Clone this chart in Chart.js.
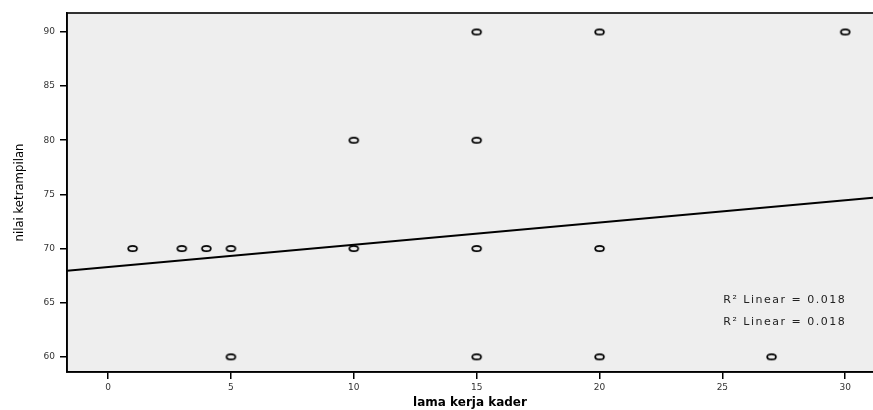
<!DOCTYPE html>
<html>
<head>
<meta charset="utf-8">
<script src="https://cdn.jsdelivr.net/npm/chart.js@4.4.1/dist/chart.umd.min.js"></script>
<style>
html,body{margin:0;padding:0;background:#fff;overflow:hidden;}
#wrap{width:873px;height:410px;position:relative;overflow:hidden;}
</style>
</head>
<body>
<div id="wrap"><canvas id="c" width="879" height="410"></canvas></div>
<script>
// observed data points (lama kerja kader, nilai ketrampilan)
const pointX = [15, 20, 30, 10, 15, 1, 3, 4, 5, 10, 15, 20, 5, 15, 20, 27];
const pointY = [90, 90, 90, 80, 80, 70, 70, 70, 70, 70, 70, 70, 60, 60, 60, 60];
// fitted linear regression line, endpoints at axis limits
const fitX = [-1.67, 31.13];
const fitY = [67.94, 74.68];
// axis ticks
const xTicks = [0, 5, 10, 15, 20, 25, 30];
const yTicks = [60, 65, 70, 75, 80, 85, 90];
const fitLabels = ["R\u00B2 Linear = 0.018", "R\u00B2 Linear = 0.018"];
const xTitle = "lama kerja kader";
const yTitle = "nilai ketrampilan";

// open oval marker
const mk = document.createElement('canvas');
mk.width = 13; mk.height = 9;
(function(){
  const g = mk.getContext('2d');
  g.fillStyle = '#eeeeee';
  g.strokeStyle = '#000';
  g.lineWidth = 1.7;
  g.beginPath();
  g.ellipse(6.5, 4.5, 4.4, 2.7, 0, 0, Math.PI*2);
  g.fill();
  g.stroke();
})();

const framePlugin = {
  id: 'frame',
  beforeDraw(chart){
    const {ctx, chartArea:a} = chart;
    ctx.save();
    ctx.fillStyle = '#eeeeee';
    ctx.fillRect(a.left, a.top, a.right - a.left, a.bottom - a.top);
    ctx.restore();
  },
  afterDraw(chart){
    const {ctx, chartArea:a} = chart;
    ctx.save();
    ctx.strokeStyle = '#000';
    ctx.lineWidth = 1.6;
    ctx.strokeRect(a.left, a.top, a.right - a.left + 2, a.bottom - a.top);
    ctx.font = '11px "DejaVu Sans", sans-serif';
    if ('letterSpacing' in ctx) ctx.letterSpacing = '1.5px';
    ctx.fillStyle = '#222';
    ctx.textAlign = 'right';
    ctx.textBaseline = 'middle';
    const xs = chart.scales.x.getPixelForValue(30);
    fitLabels.forEach((t, i) => ctx.fillText(t, xs + 1, 300 + i * 22));
    ctx.restore();
  }
};

new Chart(document.getElementById('c'), {
  type: 'scatter',
  data: {
    datasets: [
      {
        type: 'line',
        data: fitX.map((x, i) => ({x, y: fitY[i]})),
        borderColor: '#000',
        borderWidth: 2,
        pointRadius: 0,
        fill: false,
        order: 2
      },
      {
        data: pointX.map((x, i) => ({x, y: pointY[i]})),
        pointStyle: mk,
        pointRadius: 5,
        order: 1
      }
    ]
  },
  options: {
    responsive: false,
    animation: false,
    events: [],
    layout: {padding: {top: 13, right: 0, left: 0, bottom: 0}},
    plugins: {legend: {display: false}, tooltip: {enabled: false}},
    scales: {
      x: {
        type: 'linear',
        min: -1.67, max: 31.13,
        afterBuildTicks: s => { s.ticks = xTicks.map(v => ({value: v})); },
        afterFit: s => { s.height = 38; },
        grid: {display: true, drawOnChartArea: false, drawTicks: true, tickLength: 7, color: '#000', lineWidth: 1.5},
        border: {display: true, color: '#000', width: 1.6},
        ticks: {color: '#333', font: {family: '"DejaVu Sans", sans-serif', size: 9}, padding: 3, maxRotation: 0},
        title: {display: true, text: xTitle, color: '#000', font: {family: '"DejaVu Sans", sans-serif', size: 12, weight: 'bold'}, padding: {top: 0, bottom: 0}}
      },
      y: {
        type: 'linear',
        min: 58.6, max: 91.75,
        afterBuildTicks: s => { s.ticks = yTicks.map(v => ({value: v})); },
        afterFit: s => { s.width = 67; },
        grid: {display: true, drawOnChartArea: false, drawTicks: true, tickLength: 7, color: '#000', lineWidth: 1.5},
        border: {display: true, color: '#000', width: 1.6},
        ticks: {color: '#333', font: {family: '"DejaVu Sans", sans-serif', size: 9}, padding: 5},
        title: {display: true, text: yTitle, color: '#000', font: {family: '"DejaVu Sans Condensed", "Liberation Sans Narrow", "Liberation Sans", sans-serif', size: 13}, padding: {top: 12, bottom: 12}}
      }
    }
  },
  plugins: [framePlugin]
});
</script>
</body>
</html>
